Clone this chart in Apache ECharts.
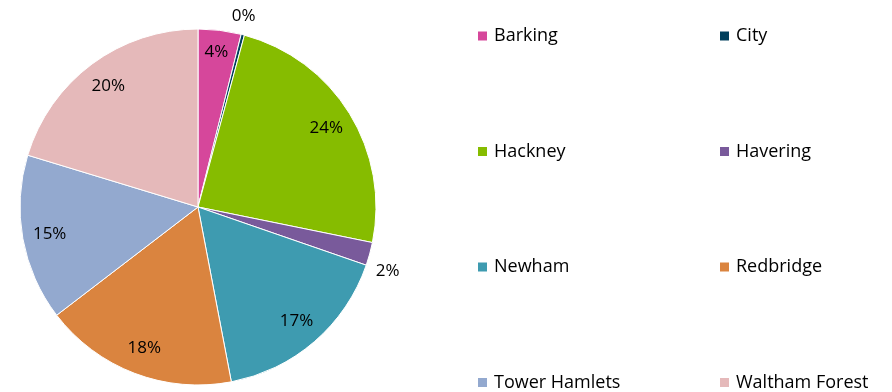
<!DOCTYPE html>
<html>
<head>
<meta charset="utf-8">
<style>
  html, body { margin: 0; padding: 0; background: #fff; }
  #chart { width: 892px; height: 392px; }
</style>
<script src="https://cdn.jsdelivr.net/npm/echarts@6/dist/echarts.min.js"></script>
</head>
<body>
<div id="chart"></div>
<script>
// Share of the total by borough (percent)
const boroughs = ['Barking', 'City', 'Hackney', 'Havering', 'Newham', 'Redbridge', 'Tower Hamlets', 'Waltham Forest'];
const shares   = [3.9, 0.3, 24.0, 2.1, 16.7, 17.6, 15.1, 20.3];
const colours  = ['#D6479B', '#003F5C', '#86BC00', '#795A9B', '#3E9BB0', '#DA843F', '#93A9CF', '#E5B9BA'];
// Slices too thin to hold their label get it outside the pie
const outsideLabels = ['City', 'Havering'];

const leftColumn  = boroughs.filter((_, i) => i % 2 === 0);
const rightColumn = boroughs.filter((_, i) => i % 2 === 1);

const FONT = '"Open Sans", sans-serif';
const CX = 198, CY = 207, R = 178;

const sliceData = boroughs.map((name, i) => ({
  name, value: shares[i], itemStyle: { color: colours[i] }
}));

const labelData = boroughs.map((name, i) => ({
  name, value: shares[i],
  label: { position: outsideLabels.includes(name) ? 'outside' : 'inside' }
}));

const legendBase = {
  orient: 'vertical',
  icon: 'rect',
  itemWidth: 11,
  itemHeight: 11,
  itemGap: 97.5,
  top: 27,
  height: 380,
  padding: 0,
  selectedMode: false,
  textStyle: { fontFamily: FONT, fontSize: 18, color: '#000', lineHeight: 16, padding: [0, 0, 0, 1] }
};

const chart = echarts.init(document.getElementById('chart'), null, { renderer: 'canvas' });
chart.setOption({
  animation: false,
  legend: [
    Object.assign({}, legendBase, { left: 476, data: leftColumn }),
    Object.assign({}, legendBase, { left: 718, data: rightColumn })
  ],
  series: [
    {
      type: 'pie',
      center: [CX, CY],
      radius: [0, R],
      startAngle: 90,
      clockwise: true,
      silent: true,
      label: { show: false },
      labelLine: { show: false },
      itemStyle: { borderColor: '#fff', borderWidth: 1 },
      data: sliceData
    },
    {
      // label ring: places percentages at ~0.83 of the radius
      type: 'pie',
      center: [CX, CY],
      radius: [R * 0.66, R],
      startAngle: 90,
      clockwise: true,
      silent: true,
      itemStyle: { color: 'rgba(0,0,0,0)', borderWidth: 0 },
      label: {
        show: true,
        fontFamily: FONT,
        fontSize: 17,
        color: '#000',
        formatter: p => Math.round(p.percent) + '%'
      },
      labelLine: { show: false, length: 0, length2: 0 },
      labelLayout: p => {
        const name = boroughs[p.dataIndex];
        if (name === 'City') return { dx: -16, dy: -19 };
        if (name === 'Havering') return { dx: 1, dy: 17 };
        if (name === 'Barking') return { dy: -5 };
        return {};
      },
      data: labelData
    }
  ]
});
</script>
</body>
</html>
